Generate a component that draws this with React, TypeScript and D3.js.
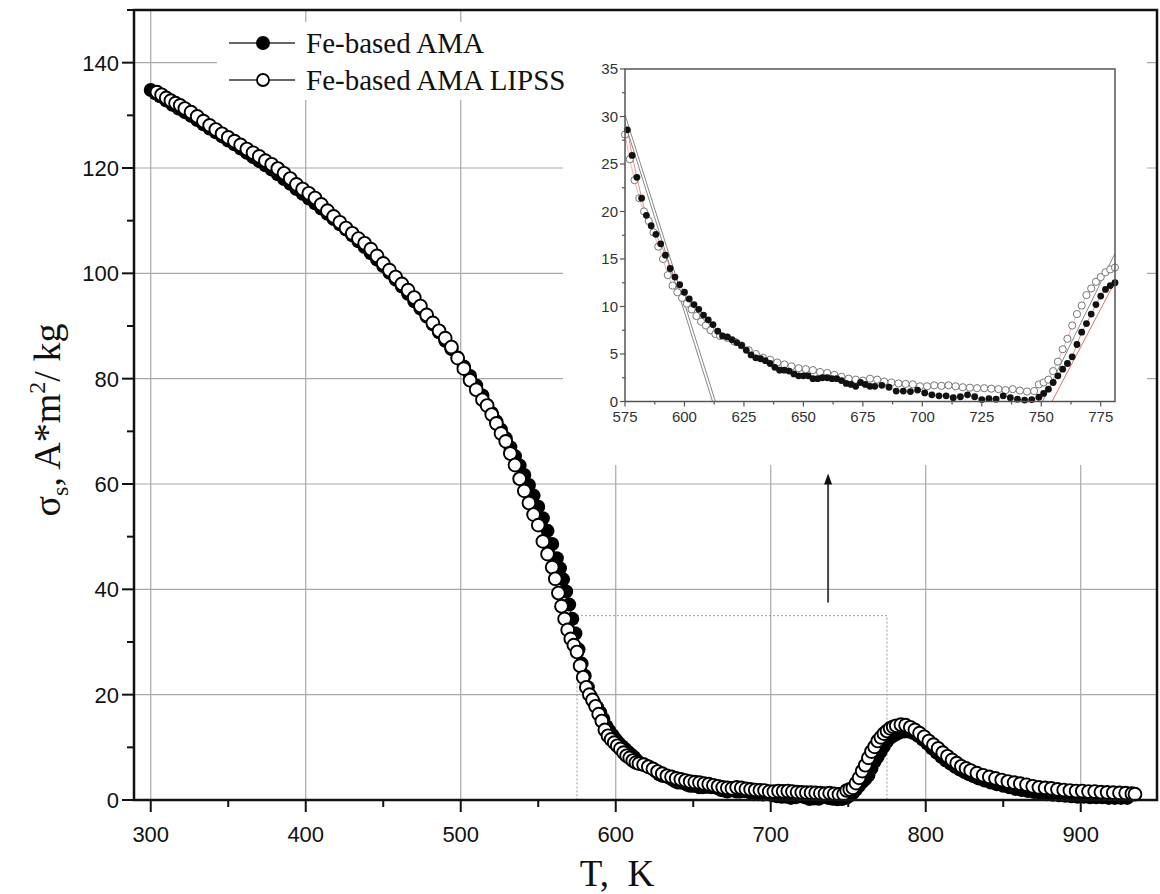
import React, { useEffect, useRef } from "react";
import * as d3 from "d3";

// Fe-based AMA (filled circles): [T, K ; sigma_s, A*m2/kg]
const amaData: [number, number][] = [
  [300, 134.8], [303, 134.2], [306, 133.6], [310, 132.8], [314, 132.0], [318, 131.3], [322, 130.6],
  [326, 129.9], [330, 129.1], [334, 128.3], [338, 127.5], [342, 126.8], [346, 126.0], [350, 125.2],
  [354, 124.5], [358, 123.7], [362, 122.9], [366, 122.1], [370, 121.3], [374, 120.5], [378, 119.7],
  [382, 118.8], [386, 117.9], [390, 117.0], [394, 116.0], [398, 115.1], [402, 114.2], [406, 113.3],
  [410, 112.3], [414, 111.3], [418, 110.3], [422, 109.3], [426, 108.3], [430, 107.2], [434, 106.1],
  [438, 105.0], [442, 103.8], [446, 102.6], [450, 101.4], [454, 100.1], [458, 98.8], [462, 97.5],
  [466, 96.1], [470, 94.7], [474, 93.3], [478, 91.8], [482, 90.3], [486, 88.8], [490, 87.2],
  [494, 85.6], [498, 84.0], [502, 82.3], [506, 80.5], [510, 78.7], [514, 76.8], [517, 75.0],
  [520, 73.5], [523, 71.9], [526, 70.3], [529, 68.7], [532, 67.0], [535, 65.3], [538, 63.5],
  [541, 61.7], [544, 59.8], [547, 57.8], [550, 55.7], [553, 53.5], [556, 51.1], [559, 48.6],
  [562, 45.9], [564, 44.0], [566, 41.9], [568, 39.6], [570, 37.1], [572, 34.4], [574, 31.6],
  [576, 28.6], [578, 25.9], [580, 23.6], [582, 21.4], [584, 19.6], [586, 18.5], [588, 17.6],
  [590, 16.6], [592, 15.4], [594, 14.0], [596, 13.1], [598, 12.3], [600, 11.5], [602, 10.8],
  [604, 10.2], [606, 9.7], [608, 9.1], [610, 8.6], [612, 8.1], [614, 7.4], [616, 6.9], [618, 6.8],
  [620, 6.5], [622, 6.2], [624, 5.9], [626, 5.4], [628, 4.9], [630, 4.6], [632, 4.5], [634, 4.3],
  [636, 4.0], [638, 3.6], [640, 3.3], [642, 3.3], [644, 3.2], [646, 2.9], [648, 2.7], [650, 2.7],
  [652, 2.7], [654, 2.4], [656, 2.4], [658, 2.5], [660, 2.5], [662, 2.4], [664, 2.4], [666, 2.2],
  [668, 1.9], [670, 1.8], [672, 1.6], [674, 2.0], [676, 1.8], [678, 1.6], [680, 1.6], [683, 1.7],
  [686, 1.5], [689, 1.1], [692, 1.1], [695, 1.05], [698, 1.2], [701, 0.9], [704, 0.7], [707, 0.6],
  [710, 0.6], [713, 0.4], [716, 0.5], [719, 0.7], [722, 0.5], [725, 0.2], [728, 0.3], [731, 0.25],
  [734, 0.6], [737, 0.4], [740, 0.25], [743, 0.15], [746, 0.2], [749, 0.45], [751, 0.85], [753, 1.3],
  [755, 2.0], [757, 2.7], [759, 3.4], [761, 4.0], [763, 4.7], [765, 6.0], [767, 7.3], [769, 8.2],
  [771, 9.2], [773, 10.2], [775, 11.1], [777, 11.8], [779, 12.2], [781, 12.5], [783, 12.8],
  [786, 13.0], [789, 13.0], [792, 12.7], [795, 12.2], [798, 11.5], [801, 10.7], [804, 9.8],
  [807, 9.0], [810, 8.2], [813, 7.5], [816, 6.9], [819, 6.3], [822, 5.8], [825, 5.3], [828, 4.9],
  [831, 4.5], [834, 4.1], [838, 3.7], [842, 3.3], [846, 3.0], [850, 2.7], [854, 2.4], [858, 2.1],
  [862, 1.9], [866, 1.7], [870, 1.5], [874, 1.3], [878, 1.1], [882, 1.0], [886, 0.9], [890, 0.8],
  [894, 0.7], [898, 0.6], [902, 0.6], [906, 0.5], [910, 0.5], [914, 0.5], [918, 0.4], [922, 0.4],
  [926, 0.4], [930, 0.4],
];

// Fe-based AMA LIPSS (open circles)
const lipssData: [number, number][] = [
  [304, 134.4], [307, 133.9], [310, 133.3], [313, 132.8], [316, 132.3], [319, 131.9], [322, 131.3],
  [326, 130.6], [330, 129.8], [334, 128.9], [338, 128.1], [342, 127.3], [346, 126.5], [350, 125.8],
  [354, 125.1], [358, 124.4], [362, 123.6], [366, 122.9], [370, 122.2], [374, 121.4], [378, 120.7],
  [382, 119.9], [386, 119.0], [390, 118.0], [394, 116.9], [398, 116.0], [402, 115.2], [406, 114.3],
  [410, 113.1], [414, 111.9], [418, 110.8], [422, 109.7], [426, 108.6], [430, 107.6], [434, 106.6],
  [438, 105.7], [442, 104.6], [446, 103.3], [450, 101.9], [454, 100.6], [458, 99.3], [462, 98.0],
  [466, 96.8], [470, 95.4], [474, 93.8], [478, 92.1], [482, 90.6], [486, 89.1], [490, 87.7],
  [494, 86.0], [498, 83.9], [502, 81.9], [506, 79.7], [510, 77.9], [514, 76.0], [517, 74.9],
  [520, 73.2], [523, 71.5], [526, 69.6], [529, 68.1], [532, 65.8], [535, 63.6], [538, 61.0],
  [541, 58.7], [544, 56.4], [547, 54.2], [550, 52.2], [553, 49.1], [556, 46.7], [559, 44.2],
  [561, 42.0], [563, 39.3], [565, 36.8], [567, 34.4], [569, 32.3], [571, 30.6], [573, 29.4],
  [575, 28.1], [577, 25.5], [579, 23.3], [581, 21.4], [583, 20.0], [585, 19.0], [587, 17.8],
  [589, 16.3], [591, 15.0], [593, 13.3], [595, 12.2], [597, 11.5], [599, 10.9], [601, 10.3],
  [603, 9.7], [605, 9.0], [607, 8.4], [609, 8.0], [611, 7.5], [613, 7.1], [615, 6.9], [618, 6.7],
  [621, 6.3], [624, 5.9], [627, 5.4], [630, 5.0], [633, 4.6], [636, 4.4], [639, 4.1], [642, 3.9],
  [645, 3.7], [648, 3.5], [651, 3.4], [654, 3.3], [657, 3.1], [660, 3.0], [663, 2.8], [666, 2.6],
  [669, 2.4], [672, 2.3], [675, 2.2], [678, 2.4], [681, 2.3], [684, 2.1], [687, 2.0], [690, 1.9],
  [693, 1.85], [696, 1.8], [699, 1.6], [702, 1.6], [705, 1.7], [708, 1.65], [711, 1.7], [714, 1.6],
  [717, 1.5], [720, 1.45], [723, 1.4], [726, 1.4], [729, 1.35], [732, 1.3], [735, 1.2], [738, 1.3],
  [741, 1.15], [744, 1.05], [747, 1.1], [749, 1.8], [751, 2.0], [753, 2.3], [755, 3.2], [757, 4.2],
  [759, 5.5], [761, 6.6], [763, 8.0], [765, 9.2], [767, 10.1], [769, 11.2], [771, 11.9], [773, 12.6],
  [775, 13.1], [777, 13.6], [779, 13.9], [781, 14.1], [784, 14.3], [787, 14.2], [790, 13.8],
  [793, 13.3], [796, 12.7], [799, 12.0], [802, 11.2], [805, 10.5], [808, 9.8], [811, 9.0], [814, 8.3],
  [817, 7.6], [820, 7.0], [823, 6.4], [826, 6.0], [829, 5.6], [833, 5.1], [837, 4.7], [841, 4.4],
  [845, 4.1], [849, 3.8], [853, 3.5], [857, 3.3], [861, 3.1], [865, 2.9], [869, 2.6], [873, 2.4],
  [877, 2.3], [881, 2.2], [885, 2.0], [889, 1.9], [893, 1.8], [897, 1.7], [901, 1.7], [905, 1.6],
  [909, 1.6], [913, 1.5], [917, 1.45], [921, 1.4], [925, 1.35], [929, 1.3], [933, 1.2], [935, 1.1],
];

const xTicks = [300, 400, 500, 600, 700, 800, 900];
const yTicks = [0, 20, 40, 60, 80, 100, 120, 140];
const insetXTicks = [575, 600, 625, 650, 675, 700, 725, 750, 775];
const insetYTicks = [0, 5, 10, 15, 20, 25, 30, 35];

// region magnified in the inset (T range, sigma range)
const zoomT = [575, 775];
const zoomS = [0, 35];
// arrow pointing at the inset
const arrowT = 737;
const arrowS = [37.5, 62];

// straight tangent lines drawn in the inset
const tangentGray: [number, number][][] = [
  [[575, 30.2], [613, 0]],
  [[575, 29.3], [611.8, 0]],
  [[750.5, 0], [781, 15.6]],
];
const tangentRed: [number, number][][] = [[[754.5, 0], [781, 12.6]]];

const W = 1160;
const H = 894;

const App = () => {
  const svgRef = useRef<SVGSVGElement>(null);

  useEffect(() => {
    document.body.style.margin = "0";
    const svg = d3.select(svgRef.current);
    svg.selectAll("*").remove();

    const L = 134, R = 1157, T = 10, B = 800;
    const x = d3.scaleLinear().domain([289.2, 949.2]).range([L, R]);
    const y = d3.scaleLinear().domain([0, 150]).range([B, T]);

    const sans = "'Liberation Sans', Arial, sans-serif";
    const serif = "'Liberation Serif', 'Times New Roman', serif";

    svg.append("rect").attr("width", W).attr("height", H).attr("fill", "#fff");

    // grid
    const grid = svg.append("g").attr("stroke", "#a8a8a8").attr("stroke-width", 1.2);
    xTicks.forEach(t => grid.append("line").attr("x1", x(t)).attr("x2", x(t)).attr("y1", T).attr("y2", B));
    yTicks.filter(v => v > 0).forEach(v => grid.append("line").attr("x1", L).attr("x2", R).attr("y1", y(v)).attr("y2", y(v)));

    // white backgrounds of legend and inset hide the grid
    svg.append("rect").attr("x", 217).attr("y", 22).attr("width", 358).attr("height", 78).attr("fill", "#fff");
    svg.append("rect").attr("x", 563).attr("y", T + 1).attr("width", 584).attr("height", 454).attr("fill", "#fff");

    // dotted zoom box
    svg.append("rect")
      .attr("x", x(zoomT[0])).attr("y", y(zoomS[1]))
      .attr("width", x(zoomT[1]) - x(zoomT[0])).attr("height", y(zoomS[0]) - y(zoomS[1]))
      .attr("fill", "none").attr("stroke", "#9a9a9a").attr("stroke-width", 1).attr("stroke-dasharray", "2,2");

    // arrow
    svg.append("line")
      .attr("x1", x(arrowT)).attr("x2", x(arrowT)).attr("y1", y(arrowS[0])).attr("y2", y(arrowS[1]) + 8)
      .attr("stroke", "#444").attr("stroke-width", 2);
    const ax = x(arrowT), ay = y(arrowS[1]);
    svg.append("path").attr("d", `M${ax},${ay} L${ax - 4},${ay + 11} L${ax + 4},${ay + 11} Z`).attr("fill", "#111");

    // data
    const line = d3.line<[number, number]>().x(d => x(d[0])).y(d => y(d[1]));
    svg.append("path").datum(amaData).attr("d", line).attr("fill", "none").attr("stroke", "#000").attr("stroke-width", 1);
    svg.append("g").selectAll("circle").data(amaData).enter().append("circle")
      .attr("cx", d => x(d[0])).attr("cy", d => y(d[1])).attr("r", 7).attr("fill", "#000");
    svg.append("g").selectAll("circle").data(lipssData).enter().append("circle")
      .attr("cx", d => x(d[0])).attr("cy", d => y(d[1])).attr("r", 6.4)
      .attr("fill", "#fff").attr("stroke", "#000").attr("stroke-width", 1.9);

    // frame
    svg.append("rect").attr("x", L).attr("y", T).attr("width", R - L).attr("height", B - T)
      .attr("fill", "none").attr("stroke", "#111").attr("stroke-width", 2.5);

    // ticks
    const tk = svg.append("g").attr("stroke", "#111").attr("stroke-width", 2);
    d3.range(300, 950, 50).forEach(t => {
      const major = t % 100 === 0;
      tk.append("line").attr("x1", x(t)).attr("x2", x(t)).attr("y1", B).attr("y2", B + (major ? 12 : 7));
    });
    d3.range(0, 151, 10).forEach(v => {
      const major = v % 20 === 0;
      tk.append("line").attr("x1", L).attr("x2", L - (major ? 12 : 7)).attr("y1", y(v)).attr("y2", y(v));
    });
    xTicks.forEach(t => svg.append("text").attr("x", x(t)).attr("y", 842).attr("text-anchor", "middle")
      .attr("font-family", sans).attr("font-size", 22).attr("fill", "#111").text(t));
    yTicks.forEach(v => svg.append("text").attr("x", 119).attr("y", y(v) + 8).attr("text-anchor", "end")
      .attr("font-family", sans).attr("font-size", 22).attr("fill", "#111").text(v));

    // axis titles
    svg.append("text").attr("x", 617).attr("y", 886).attr("text-anchor", "middle")
      .attr("font-family", serif).attr("font-size", 37).attr("fill", "#111")
      .attr("xml:space", "preserve").text("T,  K");
    const yt = svg.append("text").attr("transform", "translate(60,420) rotate(-90)").attr("text-anchor", "middle")
      .attr("font-family", serif).attr("font-size", 38).attr("fill", "#111");
    yt.append("tspan").text("σ");
    yt.append("tspan").attr("dy", 8).attr("font-size", 24).text("s");
    yt.append("tspan").attr("dy", -8).text(", A*m");
    yt.append("tspan").attr("dy", -15).attr("font-size", 24).text("2");
    yt.append("tspan").attr("dy", 15).text("/ kg");

    // legend
    const lg = svg.append("g");
    [[43, 53, true, "Fe-based AMA"], [80, 90, false, "Fe-based AMA LIPSS"]].forEach(([my, by, filled, label]) => {
      lg.append("line").attr("x1", 229).attr("x2", 295).attr("y1", my as number).attr("y2", my as number)
        .attr("stroke", "#333").attr("stroke-width", 1.5);
      lg.append("circle").attr("cx", 263).attr("cy", my as number).attr("r", filled ? 7 : 6)
        .attr("fill", filled ? "#000" : "#fff").attr("stroke", "#000").attr("stroke-width", filled ? 0 : 1.8);
      lg.append("text").attr("x", 306).attr("y", by as number).attr("font-family", serif).attr("font-size", 29)
        .attr("fill", "#111").text(label as string);
    });

    // inset
    const iL = 625, iR = 1115, iT = 69, iB = 401.5;
    const ix = d3.scaleLinear().domain([575, 781]).range([iL, iR]);
    const iy = d3.scaleLinear().domain([0, 35]).range([iB, iT]);
    svg.append("clipPath").attr("id", "insetClip").append("rect")
      .attr("x", iL).attr("y", iT).attr("width", iR - iL).attr("height", iB - iT);
    const ig = svg.append("g");
    const inset = ig.append("g").attr("clip-path", "url(#insetClip)");
    const iline = d3.line<[number, number]>().x(d => ix(d[0])).y(d => iy(d[1]));
    tangentGray.forEach(seg => inset.append("path").attr("d", iline(seg)).attr("fill", "none")
      .attr("stroke", "#888").attr("stroke-width", 1));
    tangentRed.forEach(seg => inset.append("path").attr("d", iline(seg)).attr("fill", "none")
      .attr("stroke", "#e07070").attr("stroke-width", 1));
    const inDom = (d: [number, number]) => d[0] >= 575 && d[0] <= 781;
    inset.append("path").datum(lipssData.filter(inDom)).attr("d", iline).attr("fill", "none")
      .attr("stroke", "#f0a0a0").attr("stroke-width", 0.8);
    inset.append("path").datum(amaData.filter(inDom)).attr("d", iline).attr("fill", "none")
      .attr("stroke", "#e07070").attr("stroke-width", 0.8);
    ig.append("g").selectAll("circle").data(lipssData.filter(inDom)).enter().append("circle")
      .attr("cx", d => ix(d[0])).attr("cy", d => iy(d[1])).attr("r", 3.6)
      .attr("fill", "#fff").attr("stroke", "#777").attr("stroke-width", 1);
    ig.append("g").selectAll("circle").data(amaData.filter(inDom)).enter().append("circle")
      .attr("cx", d => ix(d[0])).attr("cy", d => iy(d[1])).attr("r", 3.4).attr("fill", "#111");
    ig.append("rect").attr("x", iL).attr("y", iT).attr("width", iR - iL).attr("height", iB - iT)
      .attr("fill", "none").attr("stroke", "#555").attr("stroke-width", 1.5);
    const itk = ig.append("g").attr("stroke", "#555").attr("stroke-width", 1.2);
    d3.range(575, 782, 12.5).forEach(t => {
      const major = (t - 575) % 25 === 0;
      itk.append("line").attr("x1", ix(t)).attr("x2", ix(t)).attr("y1", iB).attr("y2", iB + (major ? 5 : 3));
    });
    d3.range(0, 35.1, 2.5).forEach(v => {
      const major = v % 5 === 0;
      itk.append("line").attr("x1", iL).attr("x2", iL - (major ? 5 : 3)).attr("y1", iy(v)).attr("y2", iy(v));
    });
    insetXTicks.forEach(t => ig.append("text").attr("x", ix(t)).attr("y", 422).attr("text-anchor", "middle")
      .attr("font-family", sans).attr("font-size", 15).attr("fill", "#333").text(t));
    insetYTicks.forEach(v => ig.append("text").attr("x", iL - 7).attr("y", iy(v) + 5).attr("text-anchor", "end")
      .attr("font-family", sans).attr("font-size", 15).attr("fill", "#333").text(v));
  }, []);

  return <svg ref={svgRef} width={W} height={H} style={{ display: "block" }} />;
};

export default App;
